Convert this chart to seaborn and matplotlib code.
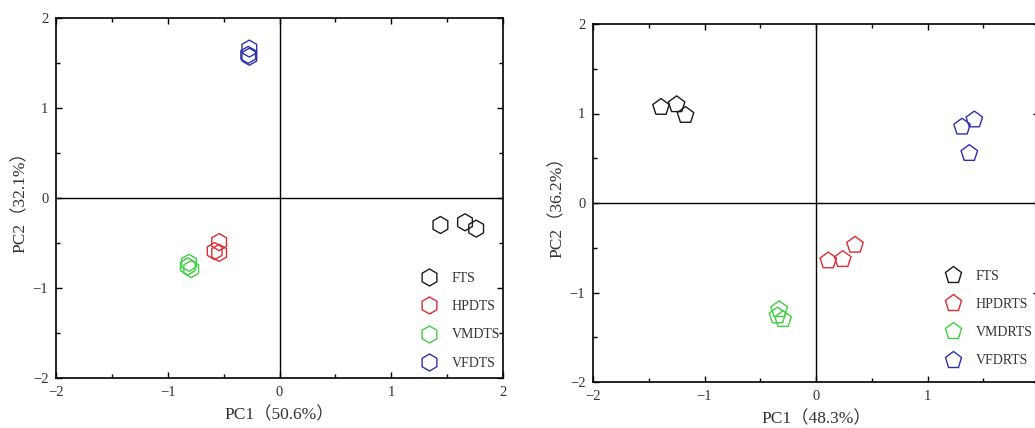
import matplotlib
matplotlib.use("Agg")
import matplotlib.pyplot as plt
from matplotlib.lines import Line2D
from matplotlib.ticker import MultipleLocator, FixedLocator, FixedFormatter
import numpy as np
import pandas as pd
import seaborn as sns

# ---- PCA scores: left panel (hexagons) ----
left_groups = ["FTS", "HPDTS", "VMDTS", "VFDTS"]
left_fts_pc1 = [1.44, 1.66, 1.76]
left_fts_pc2 = [-0.30, -0.27, -0.34]
left_hpdts_pc1 = [-0.54, -0.58, -0.54]
left_hpdts_pc2 = [-0.49, -0.59, -0.61]
left_vmdts_pc1 = [-0.81, -0.79, -0.82]
left_vmdts_pc2 = [-0.72, -0.79, -0.76]
left_vfdts_pc1 = [-0.27, -0.28, -0.27]
left_vfdts_pc2 = [1.66, 1.59, 1.57]
left_xlabel = "PC1（50.6%）"
left_ylabel = "PC2（32.1%）"
left_xticklabels = ["−2", "−1", "0", "1", "2"]

# ---- PCA scores: right panel (pentagons) ----
right_groups = ["FTS", "HPDRTS", "VMDRTS", "VFDRTS"]
right_fts_pc1 = [-1.39, -1.25, -1.17]
right_fts_pc2 = [1.07, 1.10, 0.98]
right_hpdrts_pc1 = [0.11, 0.24, 0.35]
right_hpdrts_pc2 = [-0.645, -0.63, -0.47]
right_vmdrts_pc1 = [-0.33, -0.345, -0.295]
right_vmdrts_pc2 = [-1.19, -1.26, -1.30]
right_vfdrts_pc1 = [1.31, 1.42, 1.375]
right_vfdrts_pc2 = [0.85, 0.93, 0.555]
right_xlabel = "PC1（48.3%）"
right_ylabel = "PC2（36.2%）"
right_xticklabels = ["−2", "−1", "0", "1", ""]  # the x = 2 label falls past the figure edge

tick_values = [-2, -1, 0, 1, 2]
yticklabels = ["−2", "−1", "0", "1", "2"]
group_colors = ["#1a1a1a", "#dd2a33", "#3fcf3f", "#2f2fb0"]


def make_frame(groups, pc1s, pc2s):
    rows = []
    for g, xs, ys in zip(groups, pc1s, pc2s):
        for x, y in zip(xs, ys):
            rows.append({"PC1": x, "PC2": y, "group": g})
    return pd.DataFrame(rows)


left_df = make_frame(
    left_groups,
    [left_fts_pc1, left_hpdts_pc1, left_vmdts_pc1, left_vfdts_pc1],
    [left_fts_pc2, left_hpdts_pc2, left_vmdts_pc2, left_vfdts_pc2],
)
right_df = make_frame(
    right_groups,
    [right_fts_pc1, right_hpdrts_pc1, right_vmdrts_pc1, right_vfdrts_pc1],
    [right_fts_pc2, right_hpdrts_pc2, right_vmdrts_pc2, right_vfdrts_pc2],
)

sns.set_theme(style="white")
plt.rcParams["font.family"] = ["Liberation Serif", "Noto Sans CJK SC"]

fig = plt.figure(figsize=(10.35, 4.28), dpi=100)
ax_l = fig.add_axes([56 / 1035, 1 - 378 / 428, 447 / 1035, 360 / 428])
ax_r = fig.add_axes([593 / 1035, 1 - 382 / 428, 446 / 1035, 358 / 428])


def draw_panel(ax, df, groups, marker, size, xlabel, ylabel, xticklabels,
               leg_anchor, xlab_pos, ylab_pos):
    palette = dict(zip(groups, group_colors))
    sns.scatterplot(data=df, x="PC1", y="PC2", hue="group", hue_order=groups,
                    palette=palette, marker=marker, s=size, linewidth=1.0,
                    legend=False, ax=ax, zorder=3)
    # hollow markers: outline in the group colour
    for coll in ax.collections:
        fc = coll.get_facecolors()
        coll.set_edgecolors(fc)
        coll.set_facecolors("none")
        coll.set_linewidths(1.0)

    ax.axhline(0, color="black", lw=1.0, zorder=2)
    ax.axvline(0, color="black", lw=1.0, zorder=2)
    ax.set_xlim(-2, 2)
    ax.set_ylim(-2, 2)
    ax.xaxis.set_major_locator(FixedLocator(tick_values))
    ax.xaxis.set_major_formatter(FixedFormatter(xticklabels))
    ax.yaxis.set_major_locator(FixedLocator(tick_values))
    ax.yaxis.set_major_formatter(FixedFormatter(yticklabels))
    ax.xaxis.set_minor_locator(MultipleLocator(0.5))
    ax.yaxis.set_minor_locator(MultipleLocator(0.5))
    ax.tick_params(which="both", direction="in", top=True, right=True,
                   bottom=True, left=True, colors="black", width=1.0)
    ax.tick_params(which="major", length=4, labelsize=10.5, pad=5.5,
                   labelcolor="#333333")
    ax.tick_params(which="minor", length=3)
    for sp in ax.spines.values():
        sp.set_color("black")
        sp.set_linewidth(1.2)
    ax.set_xlabel(xlabel, fontsize=12.5, color="#333333")
    ax.set_ylabel(ylabel, fontsize=12.5, color="#333333")
    ax.xaxis.set_label_coords(*xlab_pos)
    ax.yaxis.set_label_coords(*ylab_pos)

    handles = [Line2D([], [], ls="", marker=marker, ms=np.sqrt(size),
                      mfc="none", mec=c, mew=1.0)
               for c in group_colors]
    ax.legend(handles, groups, loc="upper left", bbox_to_anchor=leg_anchor,
              frameon=False, fontsize=10, handlelength=1.6,
              handletextpad=0.8, labelspacing=1.09, borderpad=0,
              borderaxespad=0, labelcolor="#333333")


draw_panel(ax_l, left_df, left_groups, "h", 150, left_xlabel, left_ylabel,
           left_xticklabels, (0.81, 0.294), (0.50, -0.08), (-0.06, 0.5))
draw_panel(ax_r, right_df, right_groups, "p", 156, right_xlabel, right_ylabel,
           right_xticklabels, (0.783, 0.313), (0.50, -0.08), (-0.06, 0.5))

fig.savefig("out.png", dpi=100)
